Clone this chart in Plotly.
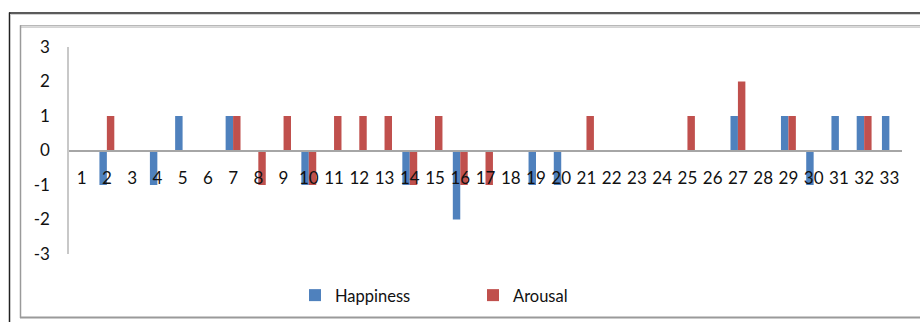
import plotly.graph_objects as go

# Rated change per clip (1..33) for the two dimensions
categories = list(range(1, 34))
happiness = [0, -1, 0, -1, 1, 0, 1, 0, 0, -1, 0, 0, 0, -1, 0, -2, 0,
             0, -1, -1, 0, 0, 0, 0, 0, 0, 1, 0, 1, -1, 1, 1, 1]
arousal = [0, 1, 0, 0, 0, 0, 1, -1, 1, -1, 1, 1, 1, -1, 1, -1, -1,
           0, 0, 0, 1, 0, 0, 0, 1, 0, 2, 0, 1, 0, 0, 1, 0]
y_ticks = [-3, -2, -1, 0, 1, 2, 3]

BLUE = "#4F81BD"
RED = "#C0504D"
AXIS = "#A6A6A6"
FONT = "Lato"

# plot area in pixels (920 x 325 canvas)
L, R, T, B = 69, 902, 47, 257
W, H = 920, 325


def px(x):
    return (x - L) / (R - L)


def py(y):
    return (B - y) / (B - T)


fig = go.Figure()
fig.add_trace(go.Bar(x=categories, y=happiness, name="Happiness",
                     marker=dict(color=BLUE, line=dict(width=0))))
fig.add_trace(go.Bar(x=categories, y=arousal, name="Arousal",
                     marker=dict(color=RED, line=dict(width=0))))

# outer and inner chart frames
frame = [
    # black outer frame (top + left)
    dict(x0=px(9), x1=px(921), y0=py(12.5), y1=py(12.5), color="#222222", w=1.5),
    dict(x0=px(9.5), x1=px(9.5), y0=py(12), y1=py(326), color="#222222", w=1.5),
    dict(x0=px(10), x1=px(921), y0=py(14), y1=py(14), color="#D0D0D0", w=1),
    # grey inner frame
    dict(x0=px(20), x1=px(921), y0=py(25.5), y1=py(25.5), color="#9A9A9A", w=1),
    dict(x0=px(20), x1=px(921), y0=py(27), y1=py(27), color="#C8C8C8", w=1),
    dict(x0=px(20.5), x1=px(20.5), y0=py(25), y1=py(322), color="#9A9A9A", w=1.5),
    dict(x0=px(20), x1=px(921), y0=py(321.5), y1=py(321.5), color="#9A9A9A", w=2),
]
for f in frame:
    fig.add_shape(type="line", xref="paper", yref="paper",
                  x0=f["x0"], x1=f["x1"], y0=f["y0"], y1=f["y1"],
                  line=dict(color=f["color"], width=f["w"]))

fig.update_layout(
    width=W, height=H,
    margin=dict(l=L, r=W - R, t=T, b=H - B),
    paper_bgcolor="white", plot_bgcolor="white",
    barmode="group", bargap=0.41, bargroupgap=0,
    font=dict(family=FONT, size=16, color="#111111"),
    showlegend=True,
    legend=dict(orientation="h", x=px(295), y=py(299),
                xanchor="left", yanchor="middle",
                entrywidth=133, entrywidthmode="pixels",
                font=dict(family=FONT, size=16.5, color="#111111"),
                bgcolor="rgba(0,0,0,0)", itemclick=False),
    xaxis=dict(range=[0.5, 33.5], tickmode="array", tickvals=categories,
               ticktext=[str(c) for c in categories],
               anchor="free", position=0.5,
               showline=True, linecolor=AXIS, linewidth=1.5,
               showgrid=False, zeroline=False, ticks="",
               ticklabelstandoff=12, tickangle=0,
               tickfont=dict(family=FONT, size=17, color="#111111")),
    yaxis=dict(range=[-3, 3], tickmode="array", tickvals=y_ticks,
               ticktext=[str(v) for v in y_ticks],
               showline=True, linecolor="#C8C8C8", linewidth=1.5,
               showgrid=False, zeroline=False, ticks="",
               ticklabelstandoff=14,
               tickfont=dict(family=FONT, size=17, color="#111111")),
)

fig.write_html("out.html")
